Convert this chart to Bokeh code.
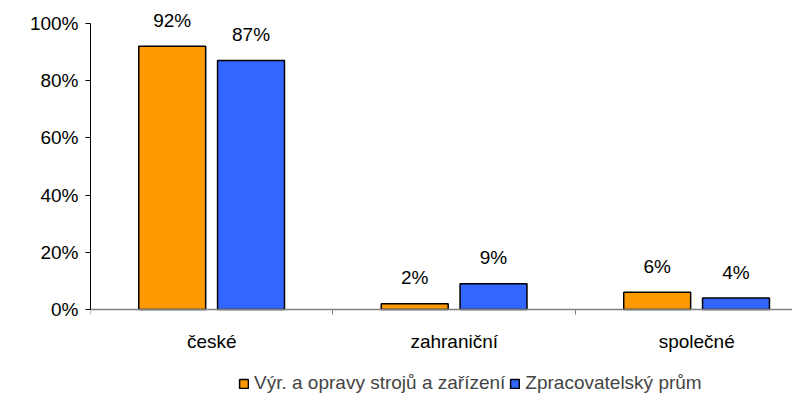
from bokeh.plotting import figure
from bokeh.models import (Range1d, FixedTicker, Legend, LegendItem, ColumnDataSource,
                          PrintfTickFormatter)
from bokeh.core.properties import value
from bokeh.embed import file_html
from bokeh.resources import INLINE

categories = ["české", "zahraniční", "společné"]
series_names = ["Výr. a opravy strojů a zařízení", "Zpracovatelský prům"]
vyr = [92, 2, 6]
zprac = [87, 9, 4]
y_ticks = [0, 20, 40, 60, 80, 100]

FONT = "Liberation Sans"
FS = "19px"
ORANGE = "#FF9900"
BLUE = "#3366FF"

p = figure(frame_width=702, frame_height=396, output_backend="svg", toolbar_location=None,
           x_range=Range1d(0, 2.895), y_range=Range1d(-30.4, 108),
           min_border_left=90, min_border_right=0, min_border_top=0, min_border_bottom=6,
           outline_line_color=None, background_fill_color="white")

centers = [i + 0.5 for i in range(len(categories))]
src1 = ColumnDataSource(dict(x=[c - 0.163 for c in centers], y=vyr,
                             t=[f"{v}%" for v in vyr]))
src2 = ColumnDataSource(dict(x=[c + 0.162 for c in centers], y=zprac,
                             t=[f"{v}%" for v in zprac]))
src_cat = ColumnDataSource(dict(x=centers, y=[0] * len(centers), t=categories))

r1 = p.vbar(x="x", top="y", bottom=0, width=0.276, source=src1,
            fill_color=ORANGE, line_color="black", line_width=1.5)
r2 = p.vbar(x="x", top="y", bottom=0, width=0.276, source=src2,
            fill_color=BLUE, line_color="black", line_width=1.5)

for s in (src1, src2):
    p.text(x="x", y="y", text="t", source=s, text_align="center", text_baseline="middle",
           y_offset=-26, text_font=value(FONT), text_font_size=FS, text_color="black")

# category labels under the axis
p.text(x="x", y="y", text="t", source=src_cat, text_align="center", text_baseline="middle",
       y_offset=32, text_font=value(FONT), text_font_size=FS, text_color="black")

p.xgrid.visible = False
p.ygrid.visible = False

# x axis (drawn at y = 0)
xa = p.xaxis[0]
xa.fixed_location = 0
xa.ticker = FixedTicker(ticks=[], minor_ticks=[0, 1, 2, 3])
xa.major_tick_line_color = None
xa.major_tick_out = 5
xa.major_tick_in = 0
xa.minor_tick_out = 5
xa.minor_tick_in = 0
xa.minor_tick_line_color = "#808080"
xa.minor_tick_line_width = 1
xa.axis_line_color = "#808080"
xa.axis_line_width = 1.5
xa.major_label_text_font_size = "0px"
xa.major_label_standoff = 0

# y axis
ya = p.yaxis[0]
ya.ticker = FixedTicker(ticks=y_ticks, minor_ticks=[])
ya.formatter = PrintfTickFormatter(format="%d%%")
ya.bounds = (0, 100)
ya.major_tick_out = 5
ya.major_tick_in = 0
ya.major_tick_line_color = "black"
ya.axis_line_color = "black"
ya.axis_line_width = 1
ya.major_label_text_font = FONT
ya.major_label_text_font_size = FS
ya.major_label_text_color = "black"
ya.major_label_standoff = 7

legend = Legend(items=[LegendItem(label=series_names[0], renderers=[r1]),
                       LegendItem(label=series_names[1], renderers=[r2])],
                orientation="horizontal", location=(148, 2),
                glyph_width=11, glyph_height=11, label_standoff=5, spacing=4,
                padding=0, margin=0, border_line_color=None, background_fill_alpha=0,
                label_text_font=FONT, label_text_font_size=FS, label_height=14)
p.add_layout(legend, "center")

open("out.html", "w").write(file_html(p, INLINE))
